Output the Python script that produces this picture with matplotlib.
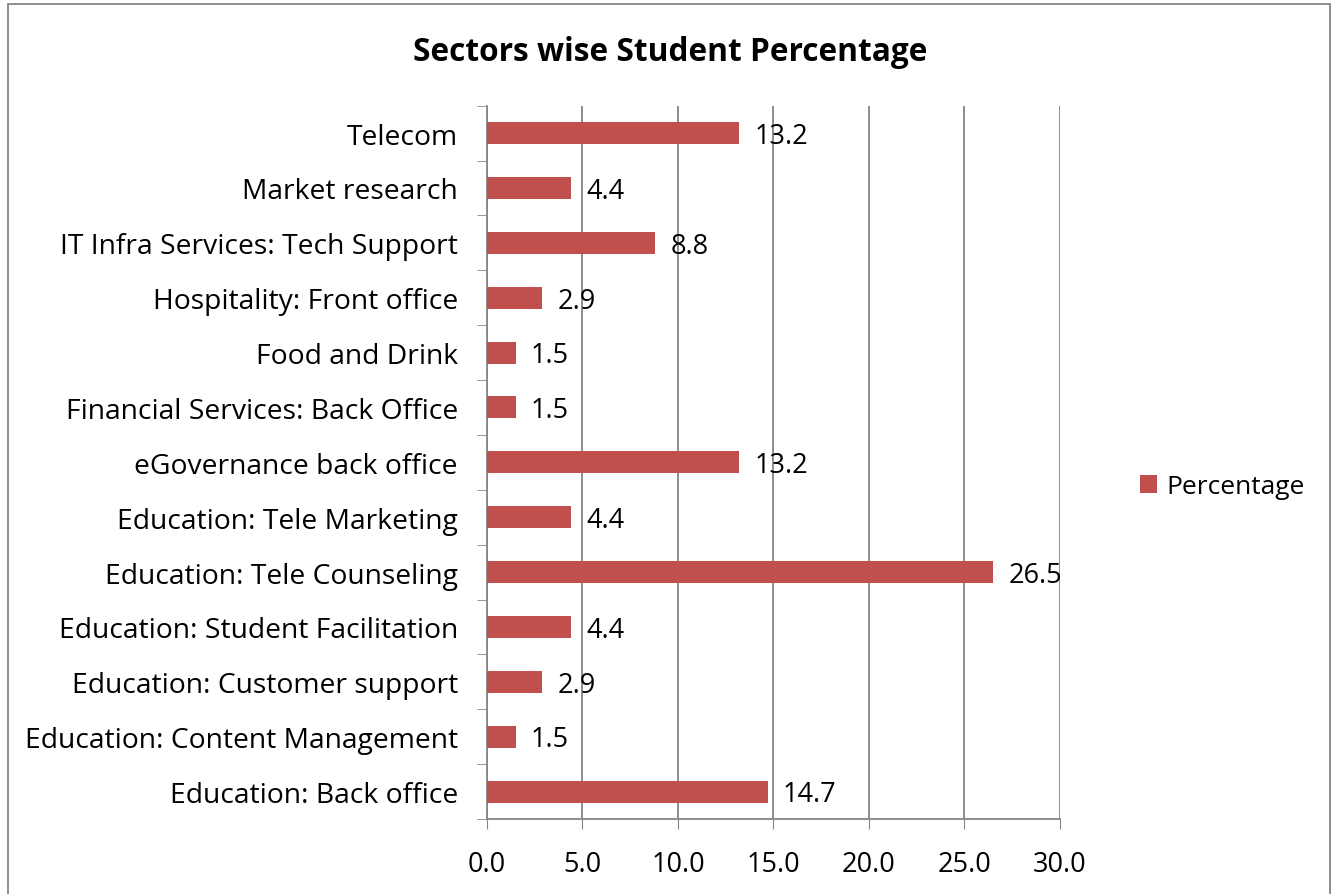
import matplotlib.pyplot as plt
from matplotlib.patches import Rectangle

plt.rcParams['font.family'] = ['Open Sans', 'DejaVu Sans']

# Sectors, listed bottom to top as drawn
sectors = [
    "Education: Back office",
    "Education: Content Management",
    "Education: Customer support",
    "Education: Student Facilitation",
    "Education: Tele Counseling",
    "Education: Tele Marketing",
    "eGovernance back office",
    "Financial Services: Back Office",
    "Food and Drink",
    "Hospitality: Front office",
    "IT Infra Services: Tech Support",
    "Market research",
    "Telecom",
]
percentage = [14.7, 1.5, 2.9, 4.4, 26.5, 4.4, 13.2, 1.5, 1.5, 2.9, 8.8, 4.4, 13.2]
xticks = [0, 5, 10, 15, 20, 25, 30]

bar_color = "#C0504D"
axis_grey = "#868686"
fs = 19.5

fig = plt.figure(figsize=(13.38, 8.95), dpi=100)
ax = fig.add_axes([0.364, 0.0838, 0.428, 0.797])

pos = list(range(len(sectors)))
bars = ax.barh(pos, percentage, height=0.4, color=bar_color, label="Percentage", zorder=3)

for y, v in zip(pos, percentage):
    ax.annotate(f"{v:.1f}", xy=(v, y), xytext=(11, -2), textcoords="offset points",
                va="center", ha="left", fontsize=fs, zorder=4)

ax.set_xlim(0, 30)
ax.set_ylim(-0.5, len(sectors) - 0.5)
ax.set_xticks(xticks)
ax.set_xticklabels([f"{t:.1f}" for t in xticks], fontsize=fs)
ax.set_yticks(pos)
ax.set_yticklabels(sectors, fontsize=20.3)
ax.tick_params(axis="y", length=0, pad=21)
ax.tick_params(axis="x", length=7, color=axis_grey, pad=15)

# tick marks on the category boundaries
ax.set_yticks([p - 0.5 for p in pos] + [len(sectors) - 0.5], minor=True)
ax.tick_params(axis="y", which="minor", length=7, color=axis_grey)

ax.grid(axis="x", color=axis_grey, linewidth=1.3, zorder=0)
for side in ("top", "right"):
    ax.spines[side].set_visible(False)
for side in ("left", "bottom"):
    ax.spines[side].set_color(axis_grey)
    ax.spines[side].set_linewidth(1.3)

fig.text(0.501, 0.941, "Sectors wise Student Percentage", ha="center", va="center",
         fontsize=22.8, fontweight="bold")

fig.legend(handles=[bars], loc="center left", bbox_to_anchor=(0.834, 0.455),
           frameon=False, fontsize=19, handlelength=0.65, handleheight=0.65,
           handletextpad=0.35)

fig.patches.append(Rectangle((0.006, -0.01), 0.988, 1.004, transform=fig.transFigure,
                             fill=False, edgecolor=axis_grey, linewidth=1.3))

fig.savefig("out.png", dpi=100)
